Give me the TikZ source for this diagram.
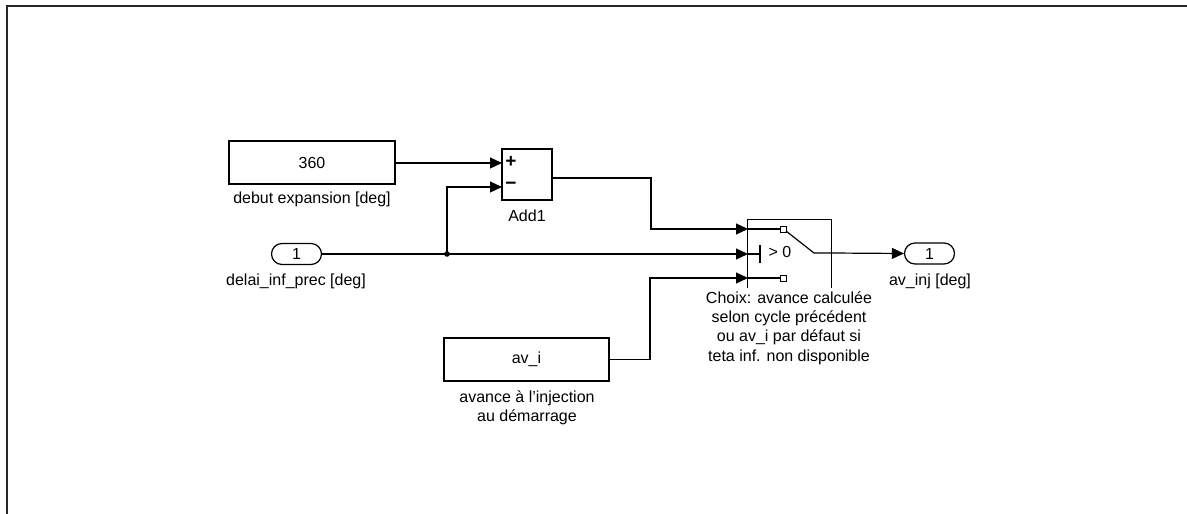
\documentclass[tikz,border=0pt]{standalone}
\usepackage{fontspec}
\setmainfont{Liberation Sans}
\usetikzlibrary{arrows.meta,calc}
\begin{document}
\begin{tikzpicture}[x=1pt,y=-1pt,
  font=\fontsize{16}{19.3}\selectfont,
  wire/.style={line width=1.2pt,black},
  arr/.style={wire,-{Triangle[length=12pt,width=11pt]}},
  blk/.style={draw,line width=1.2pt,rectangle,inner sep=0pt},
  port/.style={draw,line width=1.2pt,rectangle,rounded corners=10.5pt,minimum width=50pt,minimum height=21pt,inner sep=0pt},
  lbl/.style={inner sep=0pt,align=center},
  sgn/.style={inner sep=0pt,font=\fontsize{19}{20}\selectfont\bfseries},
  frame/.style={line width=1.5pt,black!85}]
\useasboundingbox (0,0) rectangle (1187,514);
% frame
\coordinate (f0) at (7,6);
\coordinate (f1) at (1187,6);
\coordinate (f2) at (7,514);
\draw[frame] (f1) -- (f0) -- (f2);

% blocks
\node[blk,minimum width=166pt,minimum height=43pt] (c360) at (312,162.5) {360};
\node[lbl] (c360l) at (312,199) {debut expansion [deg]};
\node[blk,minimum width=50pt,minimum height=51pt] (add) at (527,174.5) {};
\node[lbl] (addl) at (527,216) {Add1};
\node[sgn] (plus) at (511,162) {+};
\node[sgn] (minus) at (511,186) {−};
\node[port] (in1) at (296.5,254) {1};
\node[lbl] (in1l) at (296,281) {delai\_inf\_prec [deg]};
\node[port] (out1) at (929.5,253.5) {1};
\node[lbl] (out1l) at (930,281) {av\_inj [deg]};
\node[blk,minimum width=165pt,minimum height=43pt] (avi) at (526.5,359.5) {av\_i};
\node[lbl] (avil) at (527,408) {avance à l\char"0027 injection\\au démarrage};
% switch
\node[minimum width=83pt,minimum height=68pt,inner sep=0pt] (sw) at (789.5,254) {};
\draw[wire] (sw.south west) -- (sw.north west) -- (sw.north east) -- (sw.south east);
\node[lbl,fill=white,inner ysep=2pt] (swl) at (789,328) {Choix: avance calculée\\selon cycle précédent\\ou av\_i par défaut si\\teta inf. non disponible};
\node[lbl] (gt) at (780,252) {> 0};

% switch internals
\coordinate (s1) at (748,229);
\coordinate (s2) at (748,254);
\coordinate (s3) at (748,278);
\coordinate (so) at (831,253);
\coordinate (sq1) at (783,229);
\coordinate (sq3) at (783,278);
\coordinate (piv) at (814,253);
\coordinate (tk) at (760,254);
\draw[wire] (s1) -- (sq1);
\draw[wire] (s3) -- (sq3);
\draw[wire,fill=white,line width=0.9pt] ($(sq1)+(-3,-3)$) rectangle ($(sq1)+(3,3)$);
\draw[wire,fill=white,line width=0.9pt] ($(sq3)+(-3,-3)$) rectangle ($(sq3)+(3,3)$);
\draw[wire] ($(sq1)+(3,2)$) -- (piv) -- (so);
\draw[wire] (s2) -- (tk);
\draw[wire] ($(tk)+(0,-9)$) -- ($(tk)+(0,9)$);

% connectors
\coordinate (aplus) at (502,163);
\coordinate (aminus) at (502,187);
\coordinate (aout) at (552,178);
\coordinate (j) at (447,254);
\draw[arr] (c360.east |- aplus) -- (aplus);
\draw[wire] (in1.east) -- (j);
\draw[arr] (j) -- (s2);
\draw[arr] (j) |- (aminus);
\fill (j) circle (2.8pt);
\draw[arr] (aout) -- (651,178) |- (s1);
\draw[arr] (avi.east) -| (650,278) -- (s3);
\draw[arr] (so) -- (out1.west);
\end{tikzpicture}
\end{document}
